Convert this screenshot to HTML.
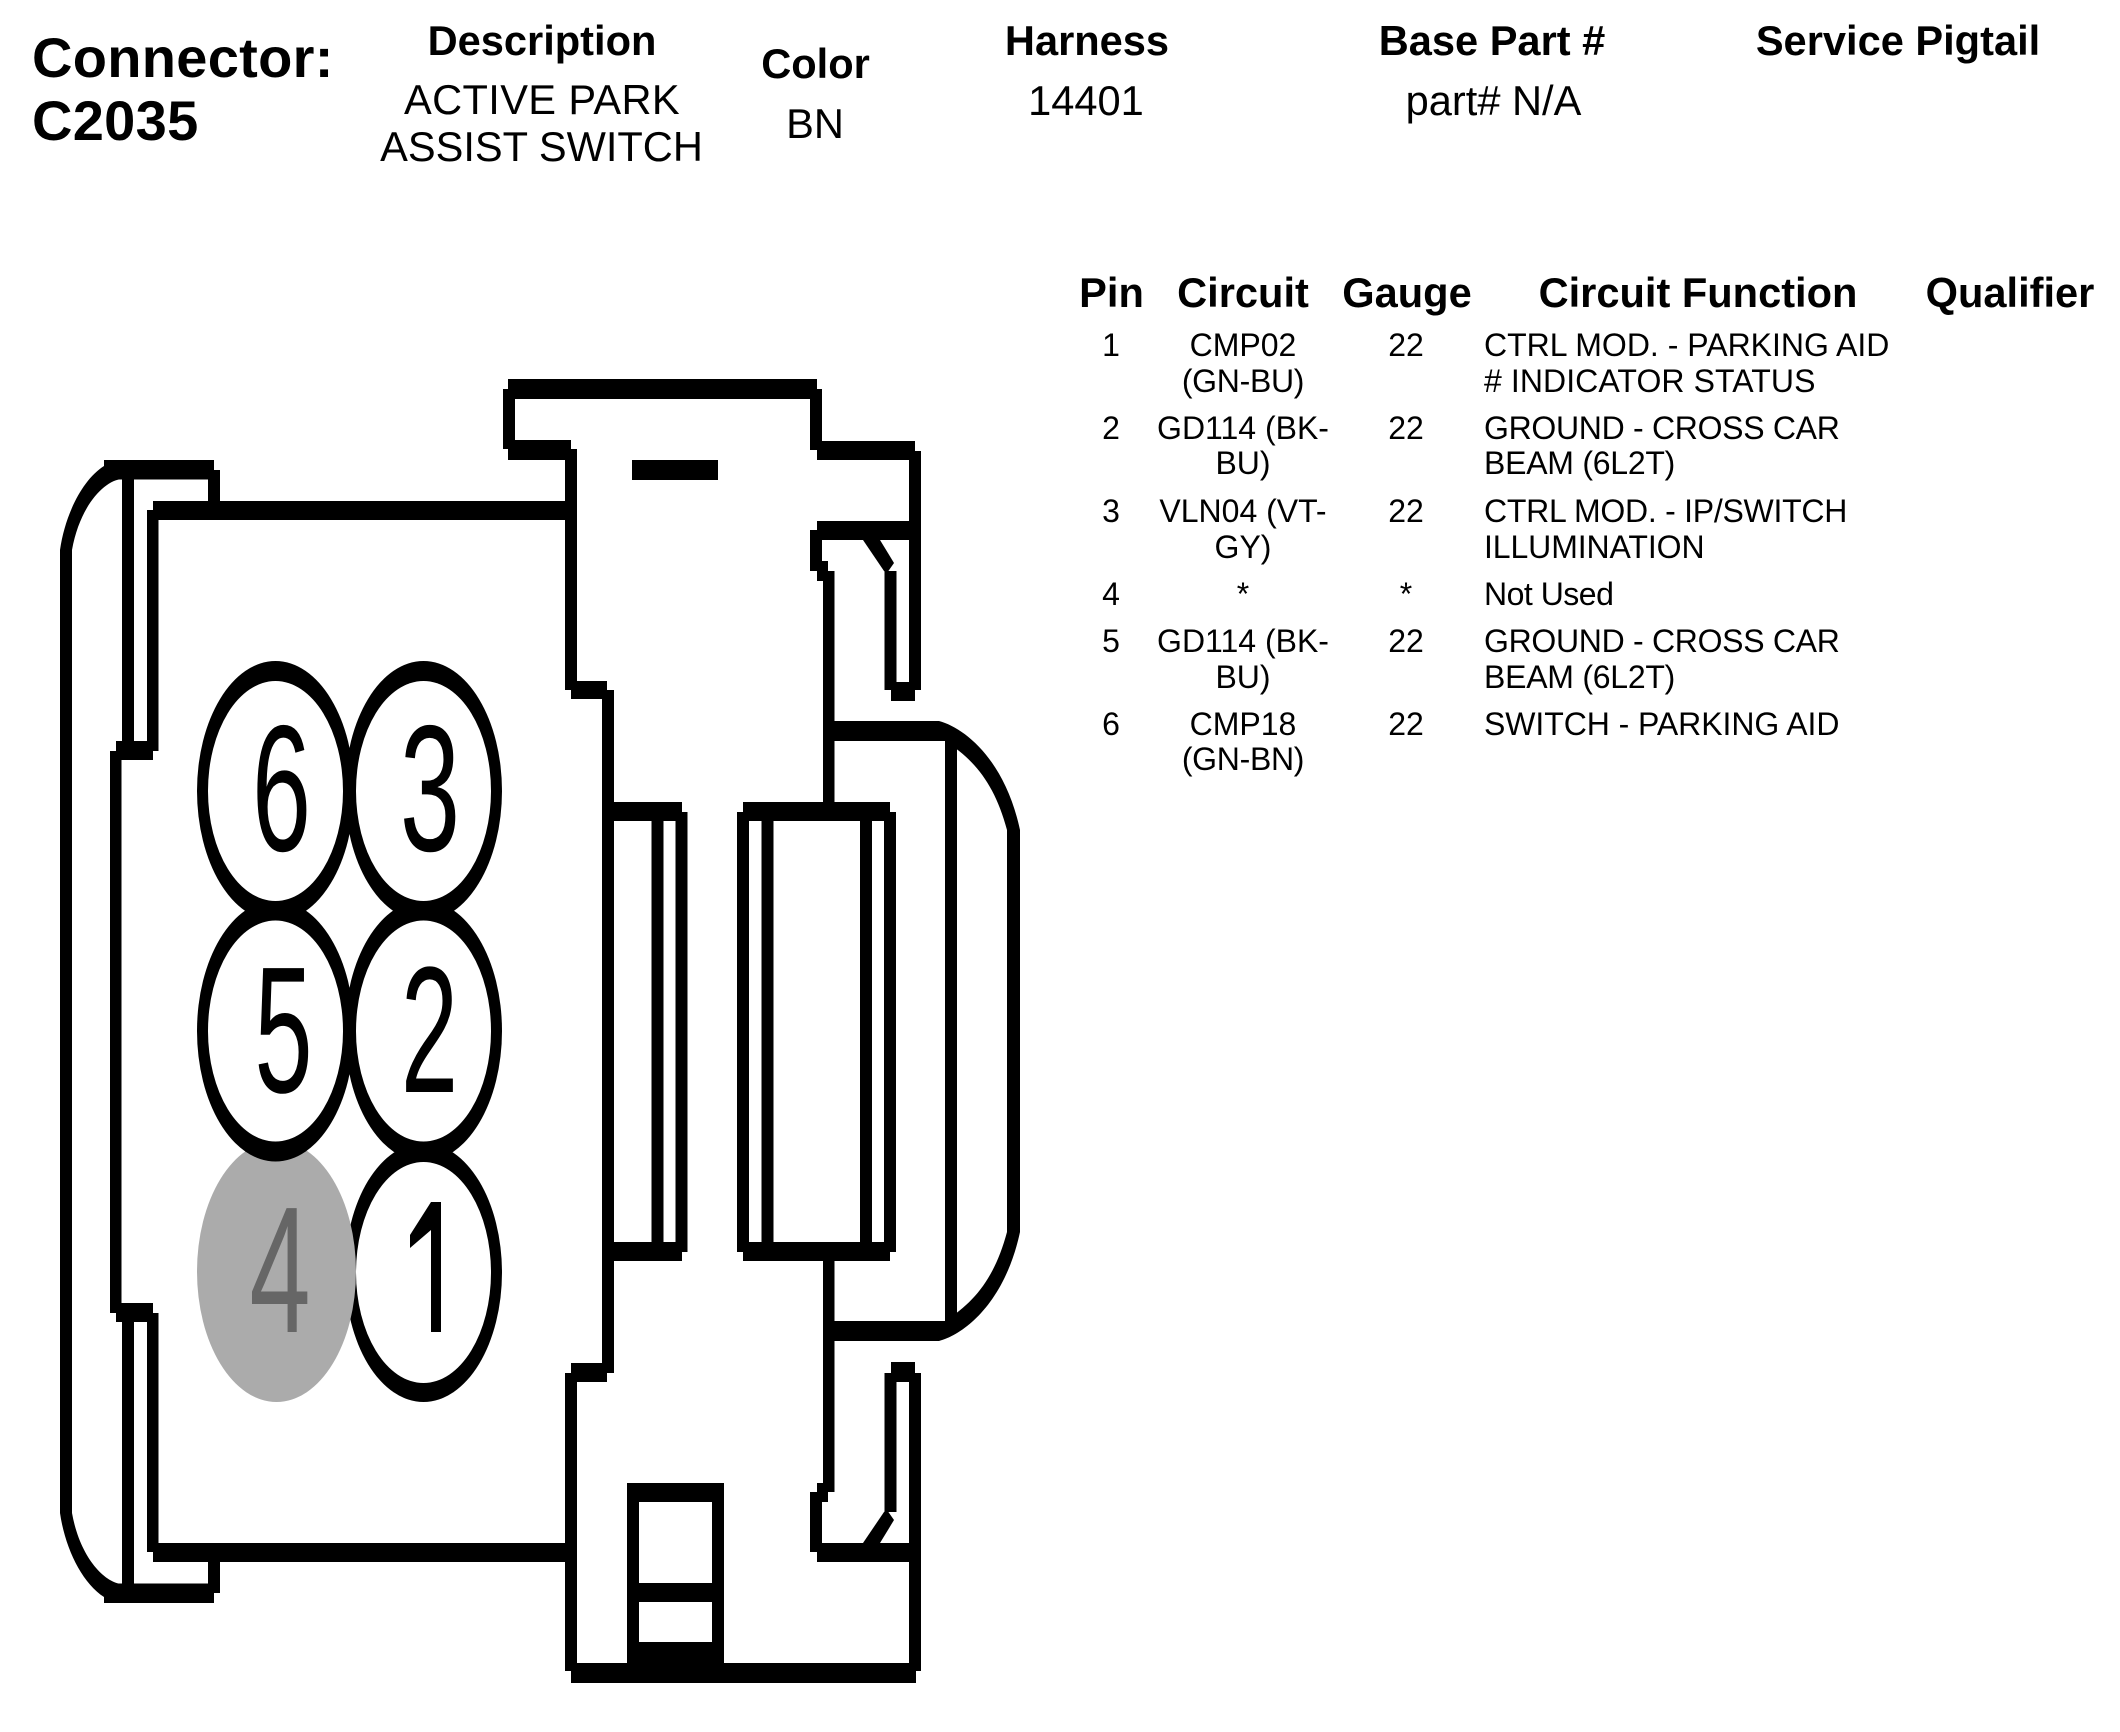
<!DOCTYPE html>
<html>
<head>
<meta charset="utf-8">
<style>
html,body{margin:0;padding:0;background:#fff;}
svg{display:block;}
text{font-family:"Liberation Sans",sans-serif;fill:#000;}
.h{font-weight:bold;font-size:41.6px;text-anchor:middle;}
.v{font-size:41.6px;text-anchor:middle;}
.r{font-size:32px;}
.c{font-size:32px;text-anchor:middle;}
.d{font-size:180px;text-anchor:middle;}
</style>
</head>
<body>
<svg width="2120" height="1732" viewBox="0 0 2120 1732" xmlns="http://www.w3.org/2000/svg">
<rect width="2120" height="1732" fill="#fff"/>

<!-- Header -->
<text x="32" y="77" style="font-weight:bold;font-size:56px;letter-spacing:.3px">Connector:</text>
<text x="32" y="140" style="font-weight:bold;font-size:56px;letter-spacing:.3px">C2035</text>
<text class="h" x="542" y="55">Description</text>
<text class="v" x="542" y="114" style="letter-spacing:.37px">ACTIVE PARK</text>
<text class="v" x="541.5" y="161">ASSIST SWITCH</text>
<text class="h" x="815.5" y="78">Color</text>
<text class="v" x="815" y="138">BN</text>
<text class="h" x="1087" y="55">Harness</text>
<text class="v" x="1086" y="115">14401</text>
<text class="h" x="1492" y="55">Base Part #</text>
<text class="v" x="1493.5" y="115">part# N/A</text>
<text class="h" x="1898" y="55">Service Pigtail</text>

<!-- Table header -->
<text class="h" x="1111.5" y="307">Pin</text>
<text class="h" x="1243" y="307">Circuit</text>
<text class="h" x="1407" y="307">Gauge</text>
<text class="h" x="1698" y="307">Circuit Function</text>
<text class="h" x="2010" y="307">Qualifier</text>

<!-- Table rows -->
<text class="c" x="1111" y="356">1</text>
<text class="c" x="1243" y="356">CMP02</text>
<text class="c" x="1243" y="392" style="letter-spacing:-.3px">(GN-BU)</text>
<text class="c" x="1406" y="356">22</text>
<text class="r" x="1484" y="356">CTRL MOD. - PARKING AID</text>
<text class="r" x="1484" y="392" style="letter-spacing:.08px"># INDICATOR STATUS</text>

<text class="c" x="1111" y="439">2</text>
<text class="c" x="1243" y="439">GD114 (BK-</text>
<text class="c" x="1243" y="474">BU)</text>
<text class="c" x="1406" y="439">22</text>
<text class="r" x="1484" y="439" style="letter-spacing:-.3px">GROUND - CROSS CAR</text>
<text class="r" x="1484" y="474" style="letter-spacing:-.25px">BEAM (6L2T)</text>

<text class="c" x="1111" y="522">3</text>
<text class="c" x="1243" y="522">VLN04 (VT-</text>
<text class="c" x="1243" y="558">GY)</text>
<text class="c" x="1406" y="522">22</text>
<text class="r" x="1484" y="522" style="letter-spacing:-.26px">CTRL MOD. - IP/SWITCH</text>
<text class="r" x="1484" y="558" style="letter-spacing:-.1px">ILLUMINATION</text>

<text class="c" x="1111" y="605">4</text>
<text class="c" x="1243" y="605">*</text>
<text class="c" x="1406" y="605">*</text>
<text class="r" x="1484" y="605" style="letter-spacing:-.5px">Not Used</text>

<text class="c" x="1111" y="652">5</text>
<text class="c" x="1243" y="652">GD114 (BK-</text>
<text class="c" x="1243" y="688">BU)</text>
<text class="c" x="1406" y="652">22</text>
<text class="r" x="1484" y="652" style="letter-spacing:-.3px">GROUND - CROSS CAR</text>
<text class="r" x="1484" y="688" style="letter-spacing:-.25px">BEAM (6L2T)</text>

<text class="c" x="1111" y="735">6</text>
<text class="c" x="1243" y="735">CMP18</text>
<text class="c" x="1243" y="770" style="letter-spacing:-.3px">(GN-BN)</text>
<text class="c" x="1406" y="735">22</text>
<text class="r" x="1484" y="735" style="letter-spacing:-.07px">SWITCH - PARKING AID</text>

<!-- Connector: left housing -->
<g fill="#000">
<rect x="60" y="550" width="12" height="963"/>
<path d="M60 550 C65 515 82 480 104 466 L104 460 L122 460 L122 479 C105 480 80 505 72 550 Z"/>
<path d="M60 1513 C65 1548 82 1583 104 1597 L104 1603 L122 1603 L122 1584 C105 1583 80 1558 72 1513 Z"/>
<rect x="104" y="460" width="110" height="19.5"/>
<rect x="104" y="1583.5" width="110" height="19.5"/>
<rect x="208" y="470" width="12" height="32"/>
<rect x="208" y="1561" width="12" height="32"/>
<rect x="122" y="470" width="12" height="281"/>
<rect x="122" y="1312" width="12" height="281"/>
<rect x="147" y="510" width="11.5" height="241"/>
<rect x="147" y="1313" width="11.5" height="239"/>
<rect x="153" y="501" width="412" height="19"/>
<rect x="153" y="1543" width="412" height="19"/>
<rect x="116" y="741" width="37" height="19"/>
<rect x="116" y="1303" width="37" height="19"/>
<rect x="110" y="751" width="11.5" height="562"/>

<!-- center body -->
<rect x="508" y="379" width="309" height="20"/>
<rect x="503" y="389" width="12" height="60"/>
<rect x="508" y="440" width="63" height="20"/>
<rect x="565" y="449" width="12" height="241"/>
<rect x="571" y="681" width="36" height="18"/>
<rect x="602" y="690" width="12" height="683"/>
<rect x="571" y="1363" width="36" height="19"/>
<rect x="565" y="1373" width="12" height="298"/>
<rect x="571" y="1663" width="345" height="20"/>
<rect x="632" y="460" width="86" height="20"/>
<rect x="810" y="389" width="12" height="61"/>
<rect x="817" y="441" width="98" height="19"/>
<rect x="909" y="451" width="12" height="81"/>
<rect x="817" y="521" width="103" height="19"/>
<rect x="810" y="530" width="12" height="41"/>
<rect x="817" y="561" width="11" height="20"/>
<rect x="823" y="571" width="11.5" height="231"/>

<!-- top latch -->
<polygon points="863,540 880,540 894,563 887,573 884,571"/>
<rect x="884.5" y="571" width="12" height="119"/>
<rect x="909" y="532" width="12" height="158"/>
<rect x="891" y="682" width="24" height="19"/>
<rect x="884.5" y="682" width="36.5" height="8"/>

<!-- right bulge -->
<rect x="834" y="721" width="105" height="20"/>
<rect x="834" y="1321" width="105" height="20"/>
<path d="M939 721 C965 728 1005 760 1020 830 L1007 830 C995 785 975 760 945 741 L939 741 Z"/>
<path d="M939 1341 C965 1334 1005 1302 1020 1232 L1007 1232 C995 1277 975 1302 945 1321 L939 1321 Z"/>
<rect x="1007" y="830" width="13" height="402"/>
<rect x="945" y="741" width="12" height="580"/>

<!-- left slot box -->
<rect x="607" y="802" width="75" height="19"/>
<rect x="607" y="1242" width="75" height="19"/>
<rect x="651.5" y="812" width="12" height="440"/>
<rect x="675.5" y="812" width="12" height="440"/>

<!-- right slot box -->
<rect x="743" y="802" width="147" height="19"/>
<rect x="743" y="1242" width="147" height="19"/>
<rect x="737" y="812" width="12" height="440"/>
<rect x="761.5" y="812" width="12" height="440"/>
<rect x="860" y="812" width="12" height="440"/>
<rect x="884" y="812" width="12" height="440"/>

<!-- lower right -->
<rect x="823" y="1261" width="11.5" height="231"/>
<rect x="817" y="1483" width="11" height="19"/>
<rect x="810" y="1492" width="12" height="60"/>
<rect x="817" y="1543" width="103" height="19"/>
<rect x="909" y="1373" width="12" height="298"/>
<rect x="884.5" y="1373" width="12" height="139"/>
<rect x="891" y="1362" width="24" height="20"/>
<rect x="884.5" y="1373" width="36.5" height="8"/>
<polygon points="863,1543 880,1543 894,1520 887,1510 884,1512"/>

<!-- bottom small rect -->
<rect x="627" y="1483" width="97" height="19"/>
<rect x="627" y="1583" width="97" height="19"/>
<rect x="627" y="1642" width="97" height="25"/>
<rect x="627" y="1483" width="12" height="184"/>
<rect x="712" y="1483" width="12" height="184"/>
</g>

<!-- Pin 1 (under the grey pin) -->
<ellipse cx="423.5" cy="1272.5" rx="78.5" ry="129.5" fill="#000"/>
<ellipse cx="423.5" cy="1272.5" rx="67.5" ry="110.5" fill="#fff"/>
<text class="d" transform="translate(435,1332) scale(0.4,1)">1</text>
<rect x="395" y="1195" width="36" height="139" fill="#fff"/>
<rect x="441" y="1316" width="34" height="18" fill="#fff"/>
<rect x="431" y="1202" width="10" height="130" fill="#000"/>
<polygon points="431,1202 410,1235 410,1248 431,1230" fill="#000"/>

<!-- Pin 4 (grey) -->
<ellipse cx="276.5" cy="1271.5" rx="79.5" ry="130.5" fill="#ababab"/>
<text class="d" transform="translate(280,1332) scale(0.61,1)" style="fill:#666">4</text>

<!-- Pins -->
<ellipse cx="275.5" cy="791" rx="78.5" ry="130" fill="#000"/>
<ellipse cx="423.5" cy="791" rx="78.5" ry="130" fill="#000"/>
<ellipse cx="275.5" cy="1031" rx="78.5" ry="130.5" fill="#000"/>
<ellipse cx="423.5" cy="1031" rx="78.5" ry="130.5" fill="#000"/>
<ellipse cx="275.5" cy="791" rx="67.5" ry="110" fill="#fff"/>
<ellipse cx="423.5" cy="791" rx="67.5" ry="110" fill="#fff"/>
<ellipse cx="275.5" cy="1031" rx="67.5" ry="110.5" fill="#fff"/>
<ellipse cx="423.5" cy="1031" rx="67.5" ry="110.5" fill="#fff"/>

<text class="d" transform="translate(281.5,850.5) scale(0.59,1)">6</text>
<text class="d" transform="translate(430,850.5) scale(0.60,1)">3</text>
<text class="d" transform="translate(283.5,1092) scale(0.58,1)">5</text>
<text class="d" transform="translate(429.5,1092) scale(0.57,1)">2</text>
</svg>
</body>
</html>
